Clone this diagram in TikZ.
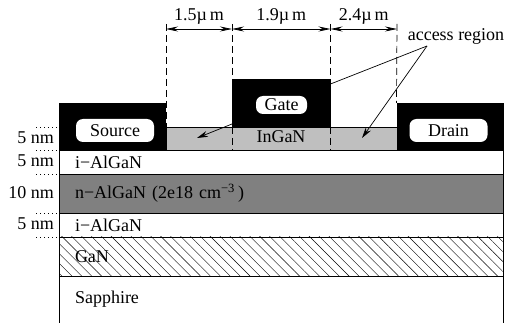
\documentclass[tikz,border=0pt]{standalone}
\usepackage{fontspec}
\setmainfont{Liberation Serif}
\usetikzlibrary{arrows.meta,positioning,calc,patterns.meta}

\begin{document}
\begin{tikzpicture}[
    x=1pt, y=-1pt,
    font=\fontsize{18}{20}\selectfont,
    node distance=0pt,
    layerBox/.style={
        rectangle, draw=black, line width=0.8pt, outer sep=0pt,
        minimum width=444.5pt, text width=412.5pt, inner xsep=16pt,
        inner ysep=0pt, align=left
    },
    contactBox/.style={
        rectangle, fill=black, outer sep=0pt, inner sep=0pt,
        minimum width=107pt, minimum height=47pt
    },
    padNode/.style={
        rectangle, rounded corners=7pt, fill=white, inner sep=0pt,
        minimum height=23pt
    },
    thickLabel/.style={anchor=east, inner sep=0pt},
    tickLine/.style={line width=0.7pt, dash pattern=on 1pt off 3pt},
    cutLine/.style={line width=0.7pt, dash pattern=on 7pt off 4pt},
    dimArrow/.style={
        {Stealth[length=12pt, width=5pt]}-{Stealth[length=12pt, width=5pt]},
        line width=0.8pt
    },
    pointArrow/.style={
        -{Stealth[length=11pt, width=6pt]}, line width=0.7pt
    }
]
\useasboundingbox (0,0) rectangle (506,323);

% Layers
\node[layerBox, anchor=north west, minimum height=24pt] (topBarrier) at (59,150) {i−AlGaN};
\node[layerBox, below=of topBarrier, fill=black!50, minimum height=39pt] (dopedLayer) {n−AlGaN (2e18 cm\textsuperscript{−3}\,)};
\node[layerBox, below=of dopedLayer, minimum height=24pt] (lowBarrier) {i−AlGaN};
\node[layerBox, below=of lowBarrier, minimum height=39pt,
      pattern={Lines[angle=-45, distance=7pt, line width=0.4pt]}] (ganLayer) {GaN};
\node[layerBox, below=of ganLayer, draw=none, minimum height=47pt] (sapphire) {Sapphire};
\draw[line width=0.8pt] (sapphire.north west) -- (sapphire.south west);
\draw[line width=0.8pt] (sapphire.north east) -- (sapphire.south east);

% Contacts
\node[contactBox, anchor=south west] (sourceBox) at (topBarrier.north west) {};
\node[contactBox, anchor=south east] (drainBox) at (topBarrier.north east) {};
\node[rectangle, draw=black, line width=0.8pt, fill=black!25, outer sep=0pt, inner sep=0pt,
      anchor=south west, minimum width=231pt, minimum height=23pt] (inganLayer) at (sourceBox.south east) {};
\node[anchor=north, inner sep=0pt] (inganText) at (281,130) {InGaN};
\node[contactBox, anchor=south west, minimum width=98.5pt, minimum height=48pt] (gateBox) at (232,127) {};
\node[padNode, minimum width=78pt] (sourcePad) at (115,130.5) {Source};
\node[padNode, minimum width=78pt] (drainPad) at (448.5,130.5) {Drain};
\node[padNode, minimum width=51pt, minimum height=18pt] (gatePad) at (281.5,105) {Gate};

% Thickness marks
\foreach \tickY/\tickName in {127/a, 150/b, 174/c, 213/d, 237/e} {
    \coordinate (tick\tickName) at (36,\tickY);
    \draw[tickLine] (tick\tickName) -- ++(22,0);
}
\node[thickLabel] (thickOne) at (54,138) {5 nm};
\node[thickLabel] (thickTwo) at (54,161) {5 nm};
\node[thickLabel] (thickThree) at (54,193) {10 nm};
\node[thickLabel] (thickFour) at (54,224) {5 nm};

% Dimensions
\coordinate (cutA) at (166,24);
\coordinate (cutB) at (232,24);
\coordinate (cutC) at (330.5,24);
\coordinate (cutD) at (397,24);
\draw[cutLine] (cutA) -- (cutA |- inganLayer.north);
\draw[cutLine] (cutB) -- (gateBox.north west);
\draw[cutLine] (gateBox.south west) -- (inganLayer.south -| cutB);
\draw[cutLine] (cutC) -- (gateBox.north east);
\draw[cutLine] (gateBox.south east) -- (inganLayer.south -| cutC);
\draw[cutLine] (cutD) -- (drainBox.north west);
\draw[dimArrow] ($(cutA)+(0,5)$) -- node[above=4pt, inner sep=0pt] (lenOne) {1.5µ\,m} ($(cutB)+(0,5)$);
\draw[dimArrow] ($(cutB)+(0,5)$) -- node[above=4pt, inner sep=0pt] (lenTwo) {1.9µ\,m} ($(cutC)+(0,5)$);
\draw[dimArrow] ($(cutC)+(0,5)$) -- node[above=4pt, inner sep=0pt] (lenThree) {2.4µ\,m} ($(cutD)+(0,5)$);

% Access region
\node[anchor=center, inner sep=0pt] (accessLabel) at (456,36) {access region};
\coordinate (accessFoot) at (427,46);
\coordinate (accessLeft) at (197,138);
\coordinate (accessRight) at (362,138);
\draw[line width=0.7pt] (accessFoot) -- (gateBox.east |- 0,84);
\draw[pointArrow] (232,124) -- (accessLeft);
\draw[pointArrow] (accessFoot) -- (accessRight);

\end{tikzpicture}
\end{document}
